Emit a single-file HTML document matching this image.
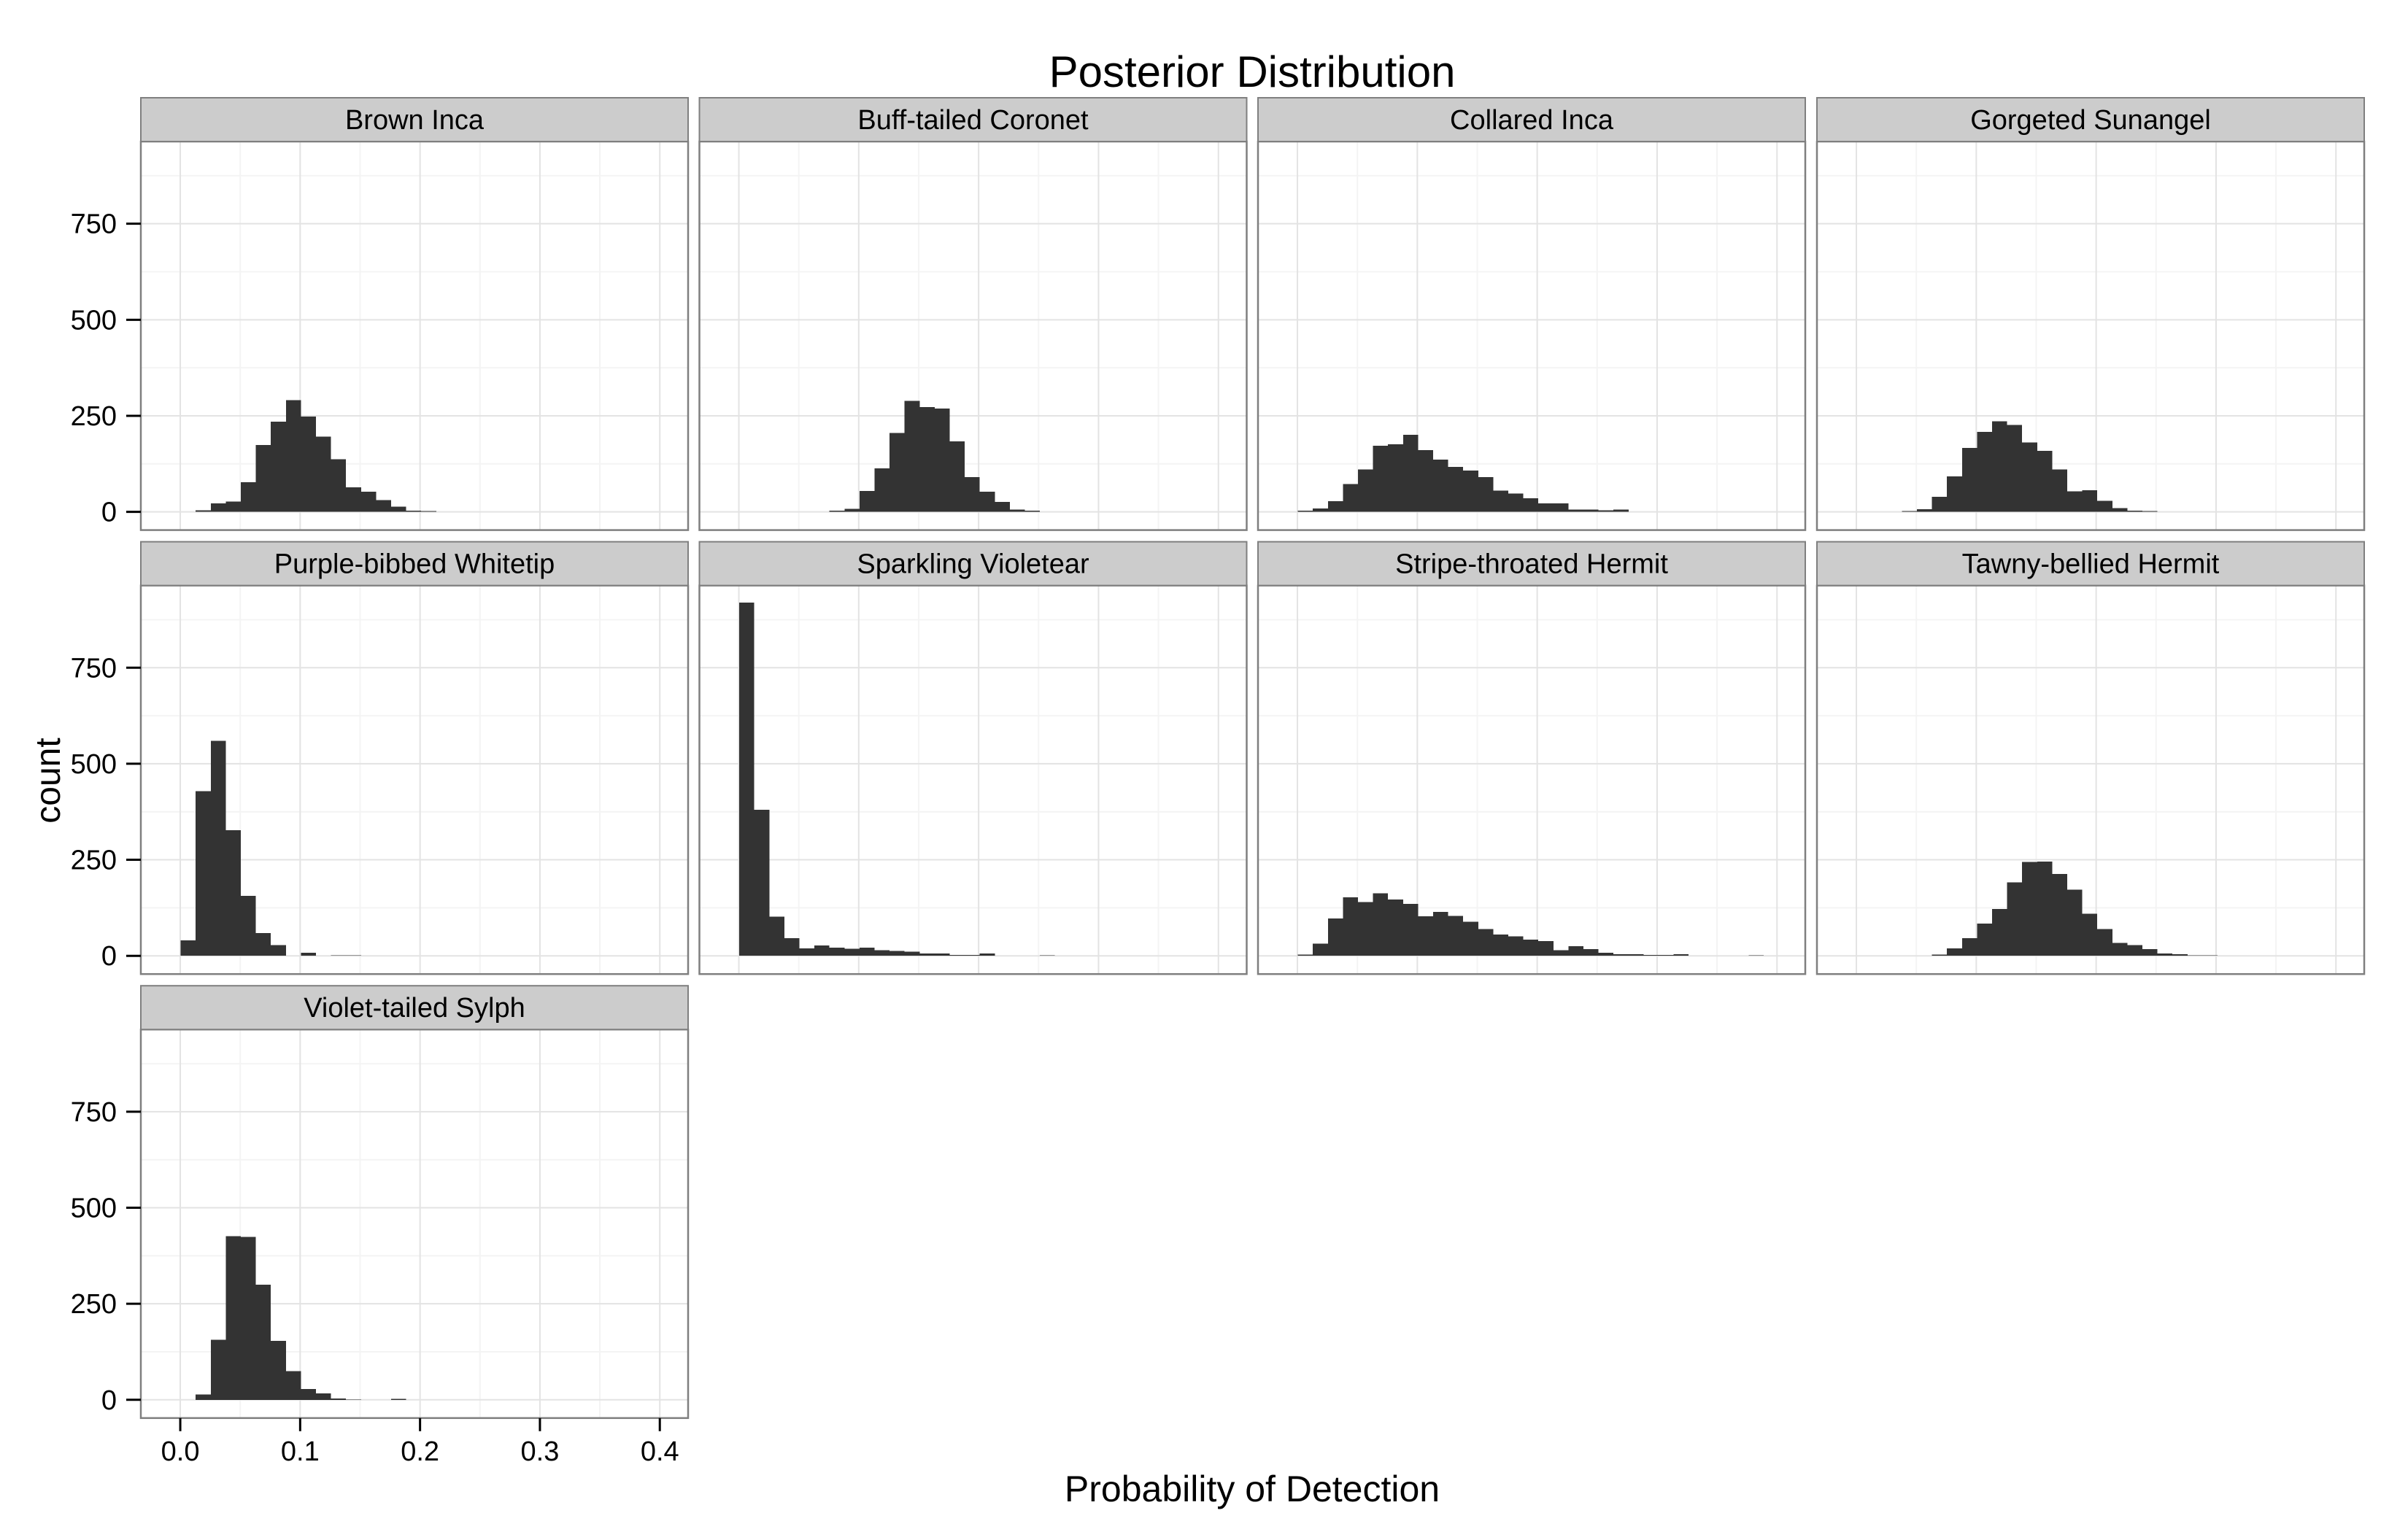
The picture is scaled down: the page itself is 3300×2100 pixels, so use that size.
<!DOCTYPE html>
<html><head><meta charset="utf-8"><style>
html,body{margin:0;padding:0;background:#fff;}
svg{display:block;font-family:"Liberation Sans",Arial,sans-serif;}
</style></head><body>
<svg id="chart" width="3300" height="2100" viewBox="0 0 3300 2100" xmlns="http://www.w3.org/2000/svg">
<rect width="3300" height="2100" fill="#fff"/>
<text x="1716" y="119" text-anchor="middle" font-size="60" fill="#000">Posterior Distribution</text>
<text x="1716" y="2058" text-anchor="middle" font-size="50" fill="#000">Probability of Detection</text>
<text x="0" y="0" transform="translate(82,1070) rotate(-90)" text-anchor="middle" font-size="48" fill="#000">count</text>
<g id="panels"></g>
</svg>
<script>
const species = ["Brown Inca","Buff-tailed Coronet","Collared Inca","Gorgeted Sunangel","Purple-bibbed Whitetip","Sparkling Violetear","Stripe-throated Hermit","Tawny-bellied Hermit","Violet-tailed Sylph"];
const binStart = [1,6,0,3,0,0,0,5,1];
const countsBrownInca = [4,22,27,77,174,235,291,248,196,137,64,52,31,13,3,2];
const countsBuffTailedCoronet = [3,8,54,113,205,289,273,269,183,90,52,26,6,3];
const countsCollaredInca = [3,9,28,72,110,172,176,201,161,136,117,107,90,55,48,35,22,22,6,6,4,6];
const countsGorgetedSunangel = [2,7,39,92,166,208,236,226,181,159,110,53,56,29,10,3,2];
const countsPurpleBibbedWhitetip = [40,429,560,327,156,59,28,0,8,0,1,1];
const countsSparklingVioletear = [920,380,102,46,19,27,21,18,21,15,13,11,6,6,2,2,6,0,0,0,1];
const countsStripeThroatedHermit = [3,32,97,152,140,163,147,135,103,114,104,89,70,55,51,42,38,15,25,17,8,4,4,2,2,4,0,0,0,0,1];
const countsTawnyBelliedHermit = [3,19,46,84,122,191,244,245,213,172,110,70,34,28,17,6,4,1,1];
const countsVioletTailedSylph = [14,156,426,424,300,153,75,28,17,3,1,0,0,2];
const xTicks = [0,0.1,0.2,0.3,0.4];
const xMinorTicks = [0.05,0.15,0.25,0.35];
const xTickLabels = ["0.0","0.1","0.2","0.3","0.4"];
const yTicks = [0,250,500,750];
const yMinorTicks = [125,375,625,875];
const yTickLabels = ["0","250","500","750"];
const binWidth = 0.01254;
const binOrigin = 0.0003;

const allCounts = [countsBrownInca,countsBuffTailedCoronet,countsCollaredInca,countsGorgetedSunangel,countsPurpleBibbedWhitetip,countsSparklingVioletear,countsStripeThroatedHermit,countsTawnyBelliedHermit,countsVioletTailedSylph];

const NS = "http://www.w3.org/2000/svg";
const root = document.getElementById("panels");
const colLeft = [193,958.5,1724,2490];
const rowTop = [194,802.6,1411.2];
const PW = 750, PH = 532.6, STRIP = 60;
const xMin = -0.0329, xMax = 0.4236, yMin = -47.5, yMax = 964;
function mk(tag, attrs, parent){const e=document.createElementNS(NS,tag);for(const k in attrs)e.setAttribute(k,attrs[k]);parent.appendChild(e);return e;}

species.forEach((name,i)=>{
  const c=i%4, r=Math.floor(i/4);
  const L=colLeft[c], T=rowTop[r];
  const xs=v=>L+(v-xMin)/(xMax-xMin)*PW;
  const ys=v=>T+PH-(v-yMin)/(yMax-yMin)*PH;
  const g=mk("g",{},root);
  
  
  mk("rect",{x:L,y:T,width:PW,height:PH,fill:"#fff"},g);
  xMinorTicks.forEach(v=>{const l=mk("line",{x1:xs(v),x2:xs(v),y1:T,y2:T+PH,stroke:"#f4f4f4","stroke-width":2},g);});
  yMinorTicks.forEach(v=>{const l=mk("line",{x1:L,x2:L+PW,y1:ys(v),y2:ys(v),stroke:"#f4f4f4","stroke-width":2},g);});
  xTicks.forEach(v=>{const l=mk("line",{x1:xs(v),x2:xs(v),y1:T,y2:T+PH,stroke:"#e3e3e3","stroke-width":2},g);});
  yTicks.forEach(v=>{const l=mk("line",{x1:L,x2:L+PW,y1:ys(v),y2:ys(v),stroke:"#e3e3e3","stroke-width":2},g);});
  allCounts[i].forEach((cnt,k)=>{
    if(cnt<=0) return;
    const idx=binStart[i]+k;
    const x0=binOrigin+idx*binWidth;
    const b=mk("rect",{x:xs(x0),y:ys(cnt),width:xs(x0+binWidth)-xs(x0),height:ys(0)-ys(cnt),fill:"#333333","shape-rendering":"crispEdges"},g);
    
    
  });
  const border=mk("rect",{x:L,y:T,width:PW,height:PH,fill:"none",stroke:"#7f7f7f","stroke-width":2.5},g);
  
  
  const s=mk("rect",{x:L,y:T-STRIP,width:PW,height:STRIP,fill:"#cccccc",stroke:"#7f7f7f","stroke-width":2},g);
  
  
  const st=mk("text",{x:L+PW/2,y:T-STRIP/2+13,"text-anchor":"middle","font-size":38,fill:"#000"},g);
  st.textContent=name;
  
  
  if(c===0){
    yTicks.forEach((v,j)=>{
      const tk=mk("line",{x1:L-20,x2:L,y1:ys(v),y2:ys(v),stroke:"#000","stroke-width":3},g);
      
      
      const tl=mk("text",{x:L-33,y:ys(v)+13,"text-anchor":"end","font-size":38,fill:"#000"},g);
      tl.textContent=yTickLabels[j];
      
      
    });
  }
  if(i===species.length-1){
    xTicks.forEach((v,j)=>{
      const tk=mk("line",{x1:xs(v),x2:xs(v),y1:T+PH,y2:T+PH+18,stroke:"#000","stroke-width":3},g);
      
      
      const tl=mk("text",{x:xs(v),y:T+PH+58,"text-anchor":"middle","font-size":38,fill:"#000"},g);
      tl.textContent=xTickLabels[j];
      
      
    });
  }
});
</script>
</body></html>
